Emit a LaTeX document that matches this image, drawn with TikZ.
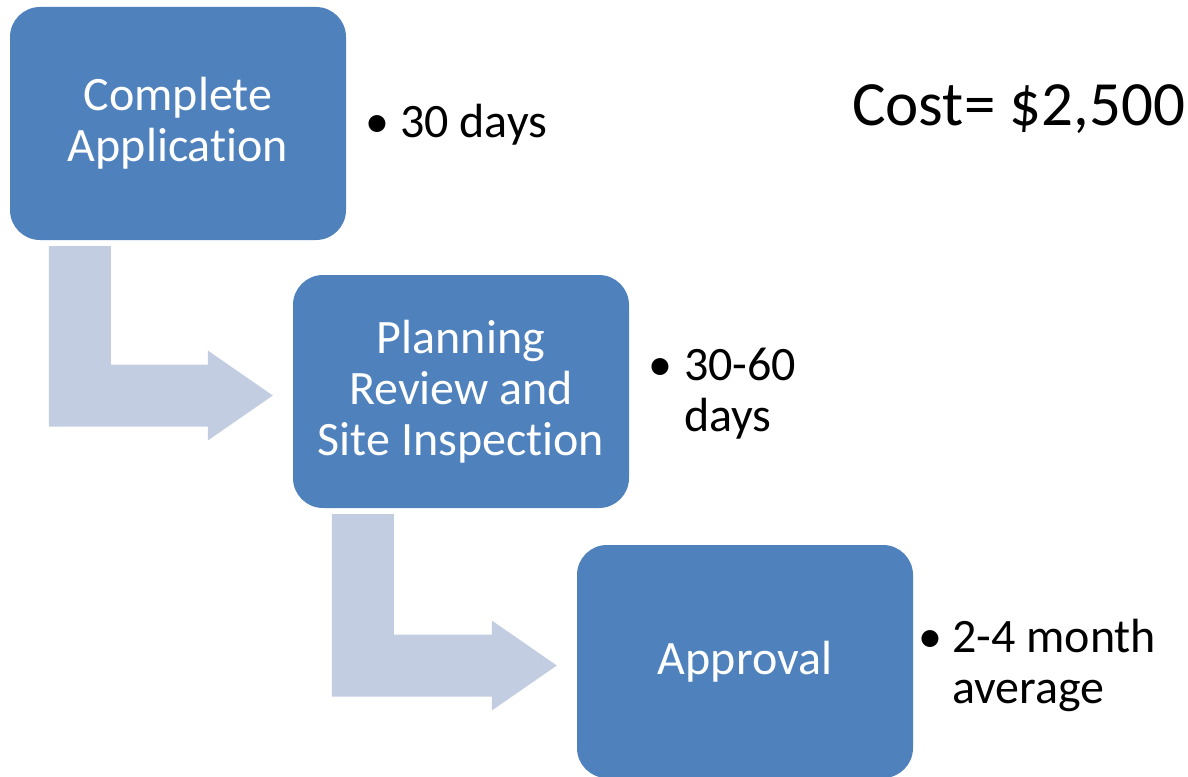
\documentclass[tikz,border=0pt]{standalone}
\usepackage{fontspec}
\setmainfont[Ligatures=NoCommon]{Carlito}
\usetikzlibrary{calc}

\definecolor{boxblue}{RGB}{79,129,189}
\definecolor{flowblue}{RGB}{195,205,226}

\tikzset{
	stepbox/.style={fill=boxblue,rounded corners=30pt,minimum width=336pt,minimum height=233pt,inner sep=0pt,text=white,align=center,font=\fontsize{48}{51}\selectfont},
	note/.style={anchor=base west,inner sep=0pt,font=\fontsize{48}{51}\selectfont},
	flow/.style={fill=flowblue}
}

\begin{document}
\begin{tikzpicture}[x=1pt,y=-1pt]
	\useasboundingbox (0,0) rectangle (1188,776);
	% steps
	\node[stepbox] (apply) at (178,123.5) {Complete\\Application};
	\node[stepbox] (review) at (461,391.5) {Planning\\Review and\\Site Inspection};
	\node[stepbox] (approve) at (745,661.5) {Approval};
	% bent arrows between the steps
	\foreach \a/\b in {apply/review,review/approve}{
		\coordinate (top) at ($(\a.south west)+(39,6)$);
		\coordinate (tip) at ($(\b.west)+(-20,4)$);
		\fill[flow] (top) -- ++(62,0) |- ($(tip)+(-65,-31)$) -- ++(0,-14) -- (tip)
			-- ++(-65,45) -- ++(0,-14) -| (top) -- cycle;
		}
	% times
	\node[note] (t1) at (365,137) {\begin{tabular}[t]{@{}l@{}l@{}}\makebox[35pt][l]{\textbullet} & 30 days\end{tabular}};
	\node[note] (t2) at (648,380) {\begin{tabular}[t]{@{}l@{}l@{}}\makebox[36pt][l]{\textbullet} & 30-60\\ & days\end{tabular}};
	\node[note] (t3) at (918,652) {\begin{tabular}[t]{@{}l@{}l@{}}\makebox[34pt][l]{\textbullet} & 2-4 month\\ & average\end{tabular}};
	\node[note,font=\fontsize{63}{70}\selectfont] (cost) at (852,125) {Cost= \$2,500};
\end{tikzpicture}
\end{document}
